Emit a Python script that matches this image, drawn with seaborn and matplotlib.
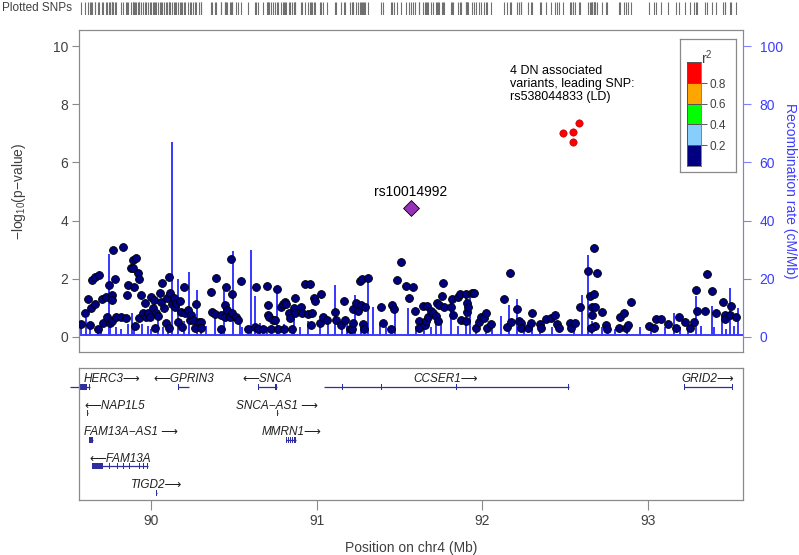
import matplotlib
matplotlib.use("Agg")
import matplotlib.pyplot as plt
import seaborn as sns
import numpy as np
import pandas as pd
from matplotlib.colors import ListedColormap
from matplotlib.patches import Rectangle

# --- association results (position in Mb, -log10 p) ---
snp_pos = [
    89.577, 89.601, 89.620, 89.631, 89.640, 89.645, 89.661, 89.664, 89.685, 89.681,
    89.705, 89.711, 89.731, 89.737, 89.745, 89.751, 89.765, 89.767, 89.769, 89.767,
    89.785, 89.791, 89.821, 89.831, 89.851, 89.857, 89.861, 89.881, 89.892, 89.898,
    89.890, 89.911, 89.905, 89.922, 89.926, 89.927, 89.938, 89.952, 89.962, 89.972,
    89.982, 89.992, 90.002, 90.012, 90.018, 90.026, 90.032, 90.042, 90.052, 90.058,
    90.066, 90.078, 90.092, 90.098, 90.107, 90.113, 90.108, 90.127, 90.139, 90.143,
    90.152, 90.163, 90.173, 90.179, 90.187, 90.199, 90.207, 90.223, 90.233, 90.243,
    90.253, 90.263, 90.273, 90.287, 90.299, 90.303, 90.363, 90.367, 90.384, 90.393,
    90.420, 90.423, 90.444, 90.448, 90.454, 90.460, 90.474, 90.484, 90.486, 90.488,
    90.514, 90.524, 90.544, 90.583,
    90.626, 90.631, 90.646, 90.677, 90.703, 90.704, 90.707, 90.711, 90.727, 90.737,
    90.751, 90.761, 90.767, 90.783, 90.797, 90.807, 90.817, 90.805, 90.831, 90.837,
    90.848, 90.863, 90.867, 90.872, 90.904, 90.911, 90.932, 90.958, 90.948, 90.964,
    90.972, 90.984, 90.992, 91.018, 91.024, 91.038, 91.064, 91.113, 91.115, 91.149,
    91.164, 91.169, 91.199, 91.213, 91.219, 91.221, 91.239, 91.249, 91.259, 91.273,
    91.269, 91.279, 91.285, 91.289, 91.309, 91.386, 91.399, 91.450, 91.454, 91.466,
    91.486, 91.510, 91.536, 91.554, 91.580,
    91.596, 91.616, 91.618, 91.643, 91.652, 91.657, 91.668, 91.669, 91.689, 91.703,
    91.717, 91.723, 91.729, 91.737, 91.753, 91.763, 91.769, 91.809, 91.817, 91.823,
    91.854, 91.863, 91.873, 91.898, 91.904, 91.905, 91.910, 91.903, 91.934, 91.950,
    91.964, 91.978, 91.990, 92.010, 92.024, 92.030, 92.050, 92.131, 92.151, 92.164,
    92.175, 92.211, 92.219, 92.231, 92.235, 92.275, 92.291, 92.299, 92.345, 92.355,
    92.386, 92.416, 92.440, 92.452, 92.460, 92.526, 92.532, 92.556, 92.586,
    92.634, 92.649, 92.661, 92.675, 92.673, 92.659, 92.677, 92.681, 92.694, 92.655,
    92.721, 92.745, 92.749, 92.825, 92.829, 92.855, 92.866, 92.878, 92.896, 93.002,
    93.036, 93.046, 93.077, 93.122, 93.170, 93.187, 93.223, 93.251, 93.277, 93.287,
    93.297, 93.343, 93.357, 93.384, 93.411, 93.452, 93.464, 93.466, 93.492, 93.498,
    93.528,
]
snp_logp = [
    0.45, 0.82, 1.31, 0.41, 1.00, 1.96, 2.06, 1.13, 2.13, 0.27,
    1.31, 0.48, 1.37, 0.69, 1.79, 0.48, 1.44, 1.27, 2.99, 0.55,
    1.99, 0.69, 0.69, 3.09, 0.65, 1.44, 1.79, 2.37, 2.65, 1.72,
    2.37, 2.71, 0.38, 2.20, 1.99, 0.65, 1.44, 0.82, 1.17, 0.69,
    0.82, 0.69, 1.37, 1.00, 1.27, 0.31, 0.82, 0.72, 1.51, 1.20,
    1.86, 1.00, 0.48, 1.34, 2.06, 1.51, 0.31, 1.13, 1.34, 1.03,
    1.17, 0.52, 1.24, 0.86, 0.34, 1.72, 0.82, 0.93, 0.58, 0.76,
    0.58, 0.31, 1.13, 0.52, 0.52, 0.31, 1.55, 0.86, 0.79, 2.03,
    0.27, 0.76, 0.69, 1.10, 1.72, 0.93, 0.69, 2.68, 1.48, 0.82,
    0.69, 0.58, 1.92, 0.27,
    0.34, 1.72, 0.27, 0.27, 1.75, 1.10, 0.76, 0.69, 0.27, 0.58,
    0.58, 1.65, 0.27, 1.03, 1.13, 1.20, 1.13, 0.27, 0.82, 0.65,
    0.27, 1.00, 0.82, 1.34, 1.03, 0.82, 1.82, 1.82, 0.79, 0.41,
    0.82, 1.34, 1.24, 0.48, 1.48, 0.69, 0.58, 0.86, 0.58, 0.41,
    1.24, 0.58, 0.27, 0.27, 0.96, 0.48, 1.17, 0.89, 1.92, 1.99,
    1.10, 0.45, 0.27, 1.03, 2.03, 1.03, 0.48, 0.27, 1.10, 0.96,
    1.96, 2.58, 1.75, 1.34, 1.72,
    0.89, 0.55, 0.31, 1.07, 0.41, 0.55, 1.07, 0.69, 0.89, 0.82,
    0.72, 1.17, 0.55, 1.10, 1.41, 1.86, 1.03, 1.03, 1.31, 0.76,
    1.37, 1.48, 0.58, 1.48, 1.17, 0.86, 1.03, 0.55, 1.51, 1.51,
    0.31, 0.52, 0.69, 0.65, 0.82, 0.31, 0.45, 1.31, 0.34, 2.20,
    0.52, 0.96, 0.55, 0.48, 0.31, 0.31, 0.48, 0.82, 0.45, 0.31,
    0.62, 0.65, 0.76, 0.45, 0.31, 0.48, 0.31, 0.48, 1.03,
    2.27, 1.41, 1.03, 3.06, 1.48, 0.76, 1.03, 0.38, 2.20, 0.31,
    0.86, 0.41, 0.27, 0.31, 0.69, 0.82, 0.31, 0.41, 1.20, 0.38,
    0.31, 0.62, 0.62, 0.45, 0.31, 0.69, 0.52, 0.31, 0.52, 1.62,
    0.89, 0.89, 2.17, 1.58, 0.82, 1.20, 0.76, 0.62, 0.76, 1.07,
    0.69,
]

# DN associated variants in LD (r2 > 0.8)
ld_pos = [92.484, 92.544, 92.548, 92.580]
ld_logp = [7.02, 7.05, 6.71, 7.34]

lead_name = "rs10014992"
lead_pos = 91.566
lead_logp = 4.43

# --- recombination rate peaks (Mb, cM/Mb) ---
recomb_pos = [
    89.580, 89.608, 89.630, 89.680, 89.700, 89.744, 89.753, 89.790, 89.820, 89.860,
    89.883, 89.900, 89.943, 89.980, 90.000, 90.042, 90.070, 90.100, 90.128, 90.166,
    90.200, 90.232, 90.277, 90.300, 90.330, 90.384, 90.420, 90.440, 90.497, 90.536,
    90.550, 90.602, 90.627, 90.660, 90.700, 90.759, 90.800, 90.863, 90.900, 90.950,
    91.020, 91.070, 91.113, 91.150, 91.180, 91.232, 91.270, 91.309, 91.339, 91.380,
    91.420, 91.470, 91.550, 91.600, 91.650, 91.690, 91.721, 91.750, 91.810, 91.850,
    91.898, 91.923, 91.960, 92.020, 92.060, 92.114, 92.158, 92.209, 92.250, 92.300,
    92.350, 92.420, 92.550, 92.601, 92.634, 92.660, 92.720, 92.800, 92.870, 92.950,
    93.020, 93.100, 93.157, 93.190, 93.240, 93.287, 93.317, 93.384, 93.400, 93.444,
    93.470, 93.492, 93.520, 93.544,
]
recomb_rate = [
    3.0, 6.2, 4.0, 2.5, 5.0, 28.2, 3.0, 3.0, 2.5, 4.0,
    8.0, 3.0, 4.0, 3.5, 2.5, 7.6, 3.0, 4.0, 66.7, 19.5,
    5.0, 22.0, 15.8, 4.0, 3.5, 6.0, 3.0, 15.6, 29.3, 4.9,
    3.0, 29.5, 13.8, 4.5, 3.0, 15.6, 4.0, 7.6, 3.0, 5.0,
    3.5, 4.0, 17.5, 3.0, 4.5, 13.9, 3.0, 18.5, 10.0, 4.0,
    3.0, 9.3, 9.6, 3.5, 5.3, 3.0, 7.0, 4.0, 12.5, 3.5,
    13.0, 14.0, 4.0, 3.0, 5.0, 7.0, 10.5, 12.7, 3.0, 4.0,
    2.5, 3.0, 3.5, 14.1, 27.8, 5.0, 3.0, 2.5, 4.0, 3.0,
    2.5, 3.0, 8.0, 3.0, 2.5, 13.7, 3.4, 10.3, 3.0, 7.0,
    2.5, 16.5, 3.5, 9.6,
]
recomb_base = 0.8

# --- genes ---
gene_names = ["HERC3", "GPRIN3", "SNCA", "CCSER1", "GRID2",
              "NAP1L5", "SNCA\u2212AS1", "FAM13A\u2212AS1", "MMRN1", "FAM13A", "TIGD2"]
gene_start = [89.514, 90.164, 90.646, 91.042, 93.217,
              89.616, 90.758, 89.626, 90.813, 89.643, 90.030]
gene_end = [89.630, 90.231, 90.761, 92.520, 93.508,
            89.620, 90.764, 89.650, 90.878, 89.984, 90.036]
gene_row = [1, 1, 1, 1, 1, 2, 2, 3, 3, 4, 5]
gene_strand = ["+", "-", "-", "+", "+", "-", "+", "+", "+", "-", "+"]
gene_exons = [
    [(89.566, 89.614), (89.628, 89.630)],
    [(90.164, 90.166), (90.229, 90.231)],
    [(90.646, 90.648), (90.746, 90.761)],
    [(91.042, 91.044), (91.154, 91.156), (91.229, 91.231), (91.319, 91.321),
     (91.389, 91.391), (91.544, 91.546), (91.645, 91.647), (91.701, 91.703),
     (91.731, 91.733), (91.842, 91.844), (92.002, 92.004), (92.518, 92.520)],
    [(93.217, 93.219), (93.506, 93.508)],
    [(89.616, 89.620)],
    [(90.758, 90.764)],
    [(89.626, 89.650)],
    [(90.813, 90.820), (90.827, 90.833), (90.840, 90.846), (90.853, 90.860), (90.866, 90.878)],
    [(89.643, 89.713), (89.728, 89.730), (89.748, 89.750), (89.796, 89.798),
     (89.832, 89.834), (89.868, 89.870), (89.909, 89.911), (89.929, 89.931),
     (89.953, 89.955), (89.977, 89.984)],
    [(90.030, 90.036)],
]

r2_colors = ["#000080", "#87CEFA", "#00FF00", "#FFA500", "#FF0000"]
r2_breaks = ["0.2", "0.4", "0.6", "0.8"]

# --- style ---
sns.set_style("white")
plt.rcParams["font.family"] = ["Liberation Sans", "DejaVu Sans"]
plt.rcParams["mathtext.fontset"] = "custom"
plt.rcParams["mathtext.rm"] = "Liberation Sans"
plt.rcParams["mathtext.it"] = "Liberation Sans:italic"

frame = "#8a8a8a"
txt = "#404040"
blue = "#3c3cff"
gene_col = "#2e2e9e"
xmin, xmax = 89.566, 93.572

fig = plt.figure(figsize=(7.99, 5.55), dpi=100)
ax = fig.add_axes([0.0989, 0.3658, 0.831, 0.580])
ax2 = ax.twinx()
ax.set_zorder(ax2.get_zorder() + 1)
ax.patch.set_visible(False)

# recombination line
px, py = [xmin], [recomb_base]
for p, r in sorted(zip(recomb_pos, recomb_rate)):
    px += [p, p, p]
    py += [recomb_base, r, recomb_base]
px.append(xmax)
py.append(recomb_base)
rec = pd.DataFrame({"pos": px, "rate": py})
sns.lineplot(data=rec, x="pos", y="rate", sort=False, estimator=None,
             color=blue, lw=1.4, ax=ax2)

# points
snps = pd.DataFrame({"pos": snp_pos, "logp": snp_logp})
sns.scatterplot(data=snps, x="pos", y="logp", color=r2_colors[0],
                edgecolor="black", linewidth=0.6, s=32, ax=ax, zorder=3)
sns.scatterplot(x=ld_pos, y=ld_logp, color=r2_colors[4], edgecolor="#a00000",
                linewidth=0.4, s=28, ax=ax, zorder=4)
sns.scatterplot(x=[lead_pos], y=[lead_logp], marker="D", color="#9632B8",
                edgecolor="black", linewidth=0.6, s=65, ax=ax, zorder=5)
ax.text(lead_pos, lead_logp + 0.3, lead_name, ha="center", va="bottom",
        fontsize=10, color="black")
ax.text(92.169, 9.35, "4 DN associated\nvariants, leading SNP:\nrs538044833 (LD)",
        ha="left", va="top", fontsize=9, color="black", linespacing=1.1)

ax.set_xlim(xmin, xmax)
ax.set_ylim(-0.52, 10.55)
ax2.set_ylim(-5.2, 105.5)
ax.set_xticks([])
ax.set_yticks(range(0, 11, 2))
ax.set_xlabel("")
ax.set_ylabel("\u2212log$_{10}$(p\u2212value)", fontsize=10, color=txt)
ax.yaxis.set_label_coords(-0.077, 0.5)
ax.tick_params(axis="y", length=5, width=0.8, color=frame, labelsize=10,
               labelcolor=txt, pad=3, left=True)
ax2.set_yticks(range(0, 101, 20))
ax2.set_xlabel("")
ax2.set_ylabel("Recombination rate (cM/Mb)", fontsize=10, color=blue,
               rotation=270, va="center")
ax2.yaxis.set_label_coords(1.071, 0.5)
ax2.tick_params(axis="y", length=6, width=0.8, color="#8080ff", labelsize=10,
                labelcolor=blue, pad=6, right=True)
for a in (ax, ax2):
    for s in a.spines.values():
        s.set_color(frame)
        s.set_linewidth(0.8)
ax2.spines["right"].set_color("#9999ee")

# r2 legend
lbox = fig.add_axes([0.851, 0.6906, 0.0701, 0.2386])
lbox.set_zorder(10)
lbox.set_xticks([])
lbox.set_yticks([])
for s in lbox.spines.values():
    s.set_color(frame)
    s.set_linewidth(0.9)
lbox.text(0.48, 0.86, "r$^2$", transform=lbox.transAxes, ha="center",
          va="center", fontsize=10, color=txt)
lax = fig.add_axes([0.8602, 0.7014, 0.01715, 0.1863])
lax.set_zorder(11)
sns.heatmap(np.array([[4], [3], [2], [1], [0]]), cmap=ListedColormap(r2_colors),
            cbar=False, linewidths=0.4, linecolor="#555555", ax=lax,
            xticklabels=False, yticklabels=False)
lax.yaxis.tick_right()
lax.set_yticks([4, 3, 2, 1])
lax.set_yticklabels(r2_breaks, fontsize=8.5, color=txt)
lax.tick_params(axis="y", right=True, length=4, width=0.6, color=txt, pad=2)
for s in lax.spines.values():
    s.set_visible(True)
    s.set_color("#555555")
    s.set_linewidth(0.5)

# rug of plotted SNPs
rug = fig.add_axes([0.0989, 0.973, 0.831, 0.0234])
all_pos = snp_pos + ld_pos + [lead_pos]
rug.vlines(all_pos, 0, 1, color="#707070", lw=0.8)
rug.set_xlim(xmin, xmax)
rug.set_ylim(0, 1)
rug.axis("off")
fig.text(0.003, 0.985, "Plotted SNPs", ha="left", va="center", fontsize=8.5,
         color=txt)

# gene track
gax = fig.add_axes([0.0989, 0.0991, 0.831, 0.2387])
gax.set_xlim(xmin, xmax)
gax.set_ylim(5.275, 0.268)
gene_texts = []
for name, s, e, row, strand, exons in zip(gene_names, gene_start, gene_end,
                                          gene_row, gene_strand, gene_exons):
    gax.plot([s, e], [row, row], color=gene_col, lw=0.9, clip_on=False,
             solid_capstyle="butt")
    for es, ee in exons:
        gax.add_patch(Rectangle((es, row - 0.11), max(ee - es, 0.003), 0.22,
                                color=gene_col, lw=0, clip_on=False))
    sep = " " if "\u2212" in name else ""
    label = f"\u27f5{name}" if strand == "-" else f"{name}{sep}\u27f6"
    t = gax.text((s + e) / 2, row - 0.17, label, ha="center", va="baseline",
                 fontsize=8.5, style="italic", color="#202020")
    gene_texts.append(t)

gax.set_yticks([])
gax.set_xticks([90, 91, 92, 93])
gax.tick_params(axis="x", bottom=True, length=7, width=0.8, color=frame,
                labelsize=10, labelcolor=txt, pad=3)
gax.set_xlabel("Position on chr4 (Mb)", fontsize=10, color=txt)
gax.xaxis.set_label_coords(0.5, -0.31)
for s in gax.spines.values():
    s.set_color(frame)
    s.set_linewidth(0.9)

# keep gene labels inside the panel
fig.canvas.draw()
rend = fig.canvas.get_renderer()
gbox = gax.get_window_extent(rend)
for t in gene_texts:
    bb = t.get_window_extent(rend)
    shift = 0
    if bb.x0 < gbox.x0 + 5:
        shift = gbox.x0 + 5 - bb.x0
    elif bb.x1 > gbox.x1 - 3:
        shift = gbox.x1 - 3 - bb.x1
    if shift:
        xd, yd = gax.transData.transform(t.get_position())
        t.set_position(gax.transData.inverted().transform((xd + shift, yd)))

fig.savefig("out.png", dpi=100)
